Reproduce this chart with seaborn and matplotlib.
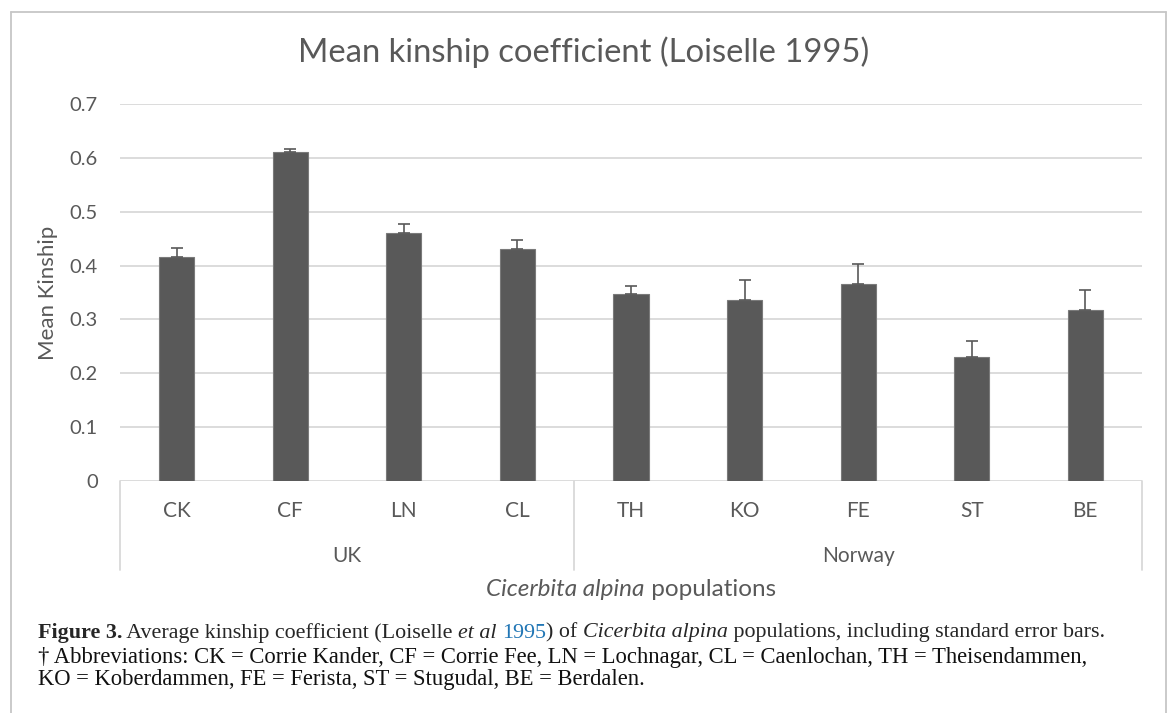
import matplotlib
matplotlib.use("Agg")
import matplotlib.pyplot as plt
from matplotlib.lines import Line2D
import matplotlib.transforms as mtransforms
import seaborn as sns
import pandas as pd

# ---- data ----
populations = ["CK", "CF", "LN", "CL", "TH", "KO", "FE", "ST", "BE"]
regions = ["UK", "UK", "UK", "UK", "Norway", "Norway", "Norway", "Norway", "Norway"]
mean_kinship = [0.415, 0.610, 0.460, 0.430, 0.348, 0.337, 0.365, 0.230, 0.318]
std_error = [0.017, 0.007, 0.018, 0.017, 0.014, 0.036, 0.037, 0.030, 0.037]
y_ticks = [0, 0.1, 0.2, 0.3, 0.4, 0.5, 0.6, 0.7]
y_tick_labels = ["0", "0.1", "0.2", "0.3", "0.4", "0.5", "0.6", "0.7"]

title = "Mean kinship coefficient (Loiselle 1995)"
y_label = "Mean Kinship"

df = pd.DataFrame({"population": populations, "region": regions,
                   "kinship": mean_kinship, "se": std_error})

sns.set_theme(style="white")
plt.rcParams["font.family"] = ["Lato", "DejaVu Sans"]

W, H, DPI = 1170, 713, 100
fig = plt.figure(figsize=(W / DPI, H / DPI), dpi=DPI)
fig.patch.set_facecolor("white")

def fx(px):
    return px / W

def fy(py):
    return 1 - py / H

ax_l, ax_r, ax_t, ax_b = 120, 1142, 104, 481
ax = fig.add_axes([fx(ax_l), fy(ax_b), fx(ax_r - ax_l), (ax_b - ax_t) / H])

GREY = "#595959"
GRID = "#d9d9d9"

sns.barplot(data=df, x="population", y="kinship", color=GREY, saturation=1,
            width=0.31, errorbar=None, edgecolor="#7a7a7a", linewidth=0.8,
            ax=ax, zorder=3)
ax.errorbar(range(len(populations)), mean_kinship,
            yerr=[[0] * len(std_error), std_error], fmt="none",
            ecolor=GREY, elinewidth=1.2, capsize=4.5, capthick=1.2, zorder=4)

ax.set_ylim(0, 0.7)
ax.set_xlim(-0.5, len(populations) - 0.5)
ax.set_yticks(y_ticks)
ax.set_yticklabels(y_tick_labels)
ax.yaxis.grid(True, color=GRID, linewidth=1.3, zorder=0)
ax.set_axisbelow(True)
for s in ax.spines.values():
    s.set_visible(False)
ax.tick_params(axis="y", length=0, pad=16, labelsize=14.5, labelcolor=GREY)
ax.tick_params(axis="x", length=0, labelbottom=False)
ax.set_xlabel("")
ax.set_ylabel("")

# multi-level category axis
trans = mtransforms.blended_transform_factory(ax.transData, ax.transAxes)
ax_h = ax_b - ax_t

def ay(px_below):
    return -px_below / ax_h

for xv in [-0.5, 3.5, len(populations) - 0.5]:
    ax.add_line(Line2D([xv, xv], [0, ay(89)], transform=trans, color=GRID,
                       lw=1.3, clip_on=False))
for i, p in enumerate(populations):
    ax.text(i, ay(30), p, transform=trans, ha="center", va="center",
            fontsize=15, color=GREY)
region_names = []
for r in regions:
    if r not in region_names:
        region_names.append(r)
for r in region_names:
    idx = [i for i, rr in enumerate(regions) if rr == r]
    ax.text((idx[0] + idx[-1]) / 2, ay(75), r, transform=trans, ha="center",
            va="center", fontsize=15, color=GREY)

fig.canvas.draw()
renderer = fig.canvas.get_renderer()

def width_of(s, **kw):
    t = fig.text(0, 0, s, **kw)
    w = t.get_window_extent(renderer).width
    t.remove()
    return w

def rich_line(pieces, x0, y0, ha="left", **common):
    widths = [width_of(s, **common, **kw) for s, kw in pieces]
    total = sum(widths)
    x = x0 - total / 2 if ha == "center" else x0
    for (s, kw), w in zip(pieces, widths):
        fig.text(fx(x), fy(y0), s, ha="left", va="center", **common, **kw)
        x += w

# title
fig.text(fx(584), fy(52), title, ha="center", va="center",
         fontsize=23.6, color=GREY)
# y label
fig.text(fx(48), fy(293), y_label, rotation=90, ha="center", va="center",
         fontsize=16, color=GREY)
# x title
rich_line([("Cicerbita alpina", {"style": "italic"}), (" populations", {})],
          (ax_l + ax_r) / 2, 590, ha="center", fontsize=17.5, color=GREY)

# caption
SERIF = ["Liberation Serif", "DejaVu Serif"]
rich_line([("Figure 3.", {"weight": "bold"}),
           (" Average kinship coefficient (Loiselle ", {}),
           ("et al", {"style": "italic"}),
           (" ", {}),
           ("1995", {"color": "#2176b5"}),
           (") of ", {}),
           ("Cicerbita alpina", {"style": "italic"}),
           (" populations, including standard error bars.", {})],
          38, 633, fontsize=15.8, family=SERIF)
fig.text(fx(38), fy(657), "\u2020 Abbreviations: CK = Corrie Kander, CF = Corrie Fee, "
         "LN = Lochnagar, CL = Caenlochan, TH = Theisendammen,",
         ha="left", va="center", fontsize=16.3, family=SERIF, color="#111111")
fig.text(fx(38), fy(680), "KO = Koberdammen, FE = Ferista, ST = Stugudal, BE = Berdalen.",
         ha="left", va="center", fontsize=16.3, family=SERIF, color="#111111")

# outer frame
for xs, ys in [([11, 11], [12, 713]), ([11, 1166], [12, 12]), ([1166, 1166], [12, 713])]:
    fig.add_artist(Line2D([fx(x) for x in xs], [fy(y) for y in ys], color="#c6c6c6",
                          lw=1.3, transform=fig.transFigure))

fig.savefig("out.png", dpi=DPI, facecolor="white")
